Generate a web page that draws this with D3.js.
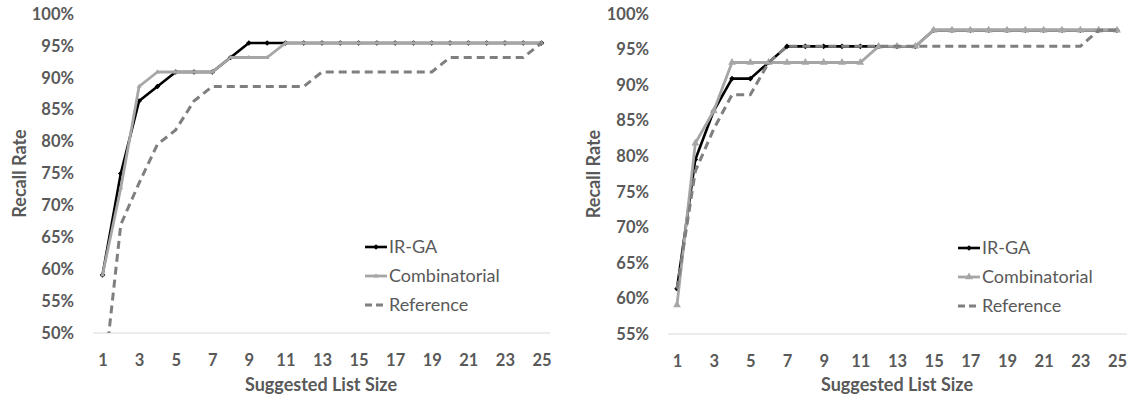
<!DOCTYPE html>
<html>
<head>
<meta charset="utf-8">
<script src="https://cdn.jsdelivr.net/npm/d3@7"></script>
<style>
  body { margin: 0; background: #fff; }
  svg { display: block; }
  text { font-family: Lato, "Open Sans", "Liberation Sans", sans-serif; fill: #595959; }
</style>
</head>
<body>
<svg id="chart" width="1131" height="398"></svg>
<script>
// Suggested list sizes (x categories) and the labelled ones
const listSizes = [1,2,3,4,5,6,7,8,9,10,11,12,13,14,15,16,17,18,19,20,21,22,23,24,25];
const xTickLabels = [1,3,5,7,9,11,13,15,17,19,21,23,25];

// Recall rate ticks (%)
const leftYTicks = [50,55,60,65,70,75,80,85,90,95,100];
const rightYTicks = [55,60,65,70,75,80,85,90,95,100];

// Series names
const seriesNames = ["IR-GA", "Combinatorial", "Reference"];

// Left panel recall rates (%)
const leftIRGA = [59.09,75.00,86.36,88.64,90.91,90.91,90.91,93.18,95.45,95.45,95.45,95.45,95.45,95.45,95.45,95.45,95.45,95.45,95.45,95.45,95.45,95.45,95.45,95.45,95.45];
const leftCombinatorial = [59.09,72.73,88.64,90.91,90.91,90.91,90.91,93.18,93.18,93.18,95.45,95.45,95.45,95.45,95.45,95.45,95.45,95.45,95.45,95.45,95.45,95.45,95.45,95.45,95.45];
const leftReference = [40.91,67.00,73.50,79.55,81.82,86.36,88.64,88.64,88.64,88.64,88.64,88.64,90.91,90.91,90.91,90.91,90.91,90.91,90.91,93.18,93.18,93.18,93.18,93.18,95.45];

// Right panel recall rates (%)
const rightIRGA = [61.36,79.55,86.36,90.91,90.91,93.18,95.45,95.45,95.45,95.45,95.45,95.45,95.45,95.45,97.73,97.73,97.73,97.73,97.73,97.73,97.73,97.73,97.73,97.73,97.73];
const rightCombinatorial = [59.09,81.82,86.36,93.18,93.18,93.18,93.18,93.18,93.18,93.18,93.18,95.45,95.45,95.45,97.73,97.73,97.73,97.73,97.73,97.73,97.73,97.73,97.73,97.73,97.73];
const rightReference = [61.36,77.90,83.80,88.64,88.64,93.18,95.45,95.45,95.45,95.45,95.45,95.45,95.45,95.45,95.45,95.45,95.45,95.45,95.45,95.45,95.45,95.45,95.45,97.73,97.73];

const svg = d3.select("#chart");

const panels = [
  { id: "left", series: [leftIRGA, leftCombinatorial, leftReference], yTicks: leftYTicks,
    plot: { x0: 93, x1: 550, y0: 14, y1: 333 }, xRange: [102.5, 541.5],
    legend: { x: 365, y: 247 }, triSize: 10, yTitleX: 20, xTitleX: 321 },
  { id: "right", series: [rightIRGA, rightCombinatorial, rightReference], yTicks: rightYTicks,
    plot: { x0: 668, x1: 1127, y0: 14, y1: 334 }, xRange: [677, 1117],
    legend: { x: 958, y: 248 }, triSize: 26, yTitleX: 594, xTitleX: 897 }
];

const styles = [
  { color: "#000000", width: 2.6, dash: null, marker: "diamond" },
  { color: "#a6a6a6", width: 2.8, dash: null, marker: "triangle" },
  { color: "#7f7f7f", width: 3, dash: "8,5", marker: null }
];

panels.forEach(p => {
  const g = svg.append("g").attr("class", "panel-" + p.id);
  const x = d3.scaleLinear().domain([listSizes[0], listSizes[listSizes.length - 1]]).range(p.xRange);
  const y = d3.scaleLinear().domain([p.yTicks[0], p.yTicks[p.yTicks.length - 1]]).range([p.plot.y1, p.plot.y0]);

  // baseline
  g.append("line")
    .attr("x1", p.plot.x0).attr("x2", p.plot.x1)
    .attr("y1", p.plot.y1).attr("y2", p.plot.y1)
    .attr("stroke", "#d9d9d9").attr("stroke-width", 1);

  // y axis
  const yAxis = g.append("g")
    .attr("transform", `translate(${p.plot.x0},0)`)
    .call(d3.axisLeft(y).tickValues(p.yTicks).tickSize(0).tickPadding(19).tickFormat(d => d + "%"));
  yAxis.select(".domain").remove();
  yAxis.selectAll("text").attr("fill", "#595959").style("font-size", "16.5px").style("font-weight", "700")
    .style("font-family", "Lato, 'Open Sans', sans-serif");

  // x axis
  const xAxis = g.append("g")
    .attr("transform", `translate(0,${p.plot.y1})`)
    .call(d3.axisBottom(x).tickValues(xTickLabels).tickSize(0).tickPadding(21).tickFormat(d3.format("d")));
  xAxis.select(".domain").remove();
  xAxis.selectAll("text").attr("fill", "#595959").style("font-size", "16.5px").style("font-weight", "700")
    .style("font-family", "Lato, 'Open Sans', sans-serif");

  // axis titles
  g.append("text")
    .attr("x", p.xTitleX).attr("y", 391)
    .attr("text-anchor", "middle")
    .style("font-size", "18px").style("font-weight", "700")
    .text("Suggested List Size");
  g.append("text")
    .attr("transform", `translate(${p.yTitleX},${(p.plot.y0 + p.plot.y1) / 2}) rotate(-90)`)
    .attr("text-anchor", "middle").attr("dy", "0.35em")
    .style("font-size", "18px").style("font-weight", "700")
    .text("Recall Rate");

  // clip to the plot area
  const clipId = "clip-" + p.id;
  svg.append("clipPath").attr("id", clipId).append("rect")
    .attr("x", p.plot.x0).attr("y", p.plot.y0 - 6)
    .attr("width", p.plot.x1 - p.plot.x0).attr("height", p.plot.y1 - p.plot.y0 + 6);
  const plotG = g.append("g").attr("clip-path", `url(#${clipId})`);

  const line = d3.line().x((d, i) => x(listSizes[i])).y(d => y(d));

  p.series.forEach((vals, si) => {
    const st = styles[si];
    plotG.append("path")
      .datum(vals)
      .attr("d", line)
      .attr("fill", "none")
      .attr("stroke", st.color)
      .attr("stroke-width", st.width)
      .attr("stroke-linejoin", "round")
      .attr("stroke-dasharray", st.dash);
    if (st.marker === "diamond") {
      plotG.selectAll(null).data(vals).join("path")
        .attr("d", d3.symbol(d3.symbolSquare, 16)())
        .attr("transform", (d, i) => `translate(${x(listSizes[i])},${y(d)}) rotate(45)`)
        .attr("fill", st.color);
    } else if (st.marker === "triangle") {
      plotG.selectAll(null).data(vals).join("path")
        .attr("d", d3.symbol(d3.symbolTriangle, p.triSize)())
        .attr("transform", (d, i) => `translate(${x(listSizes[i])},${y(d)})`)
        .attr("fill", st.color);
    }
  });

  // legend
  const lg = g.append("g").attr("transform", `translate(${p.legend.x},${p.legend.y})`);
  seriesNames.forEach((name, si) => {
    const st = styles[si];
    const row = lg.append("g").attr("transform", `translate(0,${si * 29})`);
    row.append("line").attr("x1", 0).attr("x2", 22).attr("y1", 0).attr("y2", 0)
      .attr("stroke", st.color).attr("stroke-width", st.width)
      .attr("stroke-dasharray", st.dash ? "7,4" : null);
    if (st.marker === "diamond") {
      row.append("path").attr("d", d3.symbol(d3.symbolSquare, 16)())
        .attr("transform", "translate(11,0) rotate(45)").attr("fill", st.color);
    } else if (st.marker === "triangle") {
      row.append("path").attr("d", d3.symbol(d3.symbolTriangle, p.triSize)())
        .attr("transform", "translate(11,0)").attr("fill", st.color);
    }
    row.append("text").attr("x", 24).attr("dy", "0.35em")
      .style("font-size", "18px").text(name);
  });
});
</script>
</body>
</html>
